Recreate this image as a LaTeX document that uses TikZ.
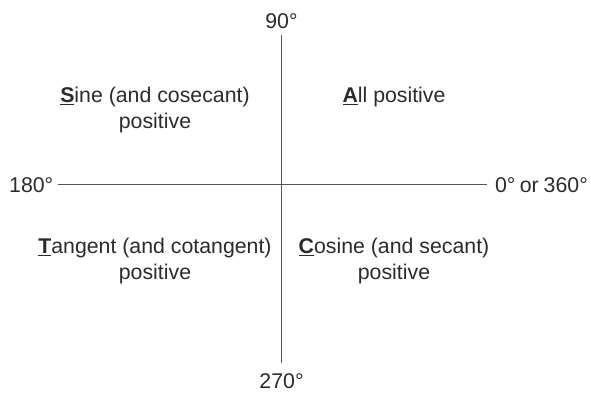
\documentclass[tikz,border=0pt]{standalone}
\usepackage{fontspec}
\setmainfont{Liberation Sans}
\usepackage{xcolor}
\usepackage{tikz}
\usetikzlibrary{positioning}

\definecolor{inkgray}{HTML}{2B2B2B}
\definecolor{axisgray}{HTML}{555555}

% bold, underlined first letter of a quadrant
\newcommand{\quadletter}[1]{\setbox0\hbox{\textbf{#1}}\rlap{\rule[-3pt]{\wd0}{1.1pt}}\box0}

\begin{document}
\begin{tikzpicture}[
    x=1pt, y=-1pt,
    lbl/.style={inner sep=0pt, anchor=base, text=inkgray,
                font=\fontsize{21.3}{26}\selectfont},
    quad/.style={lbl, align=center},
    axis/.style={draw=axisgray, line width=1.3pt}
  ]
  \useasboundingbox (0,0) rectangle (591,392);
  % angle labels
  \node[lbl] (deg90)  at (281.5,28)  {90°};
  \node[lbl] (deg270) at (281.5,388) {270°};
  \node[lbl, anchor=base west] (deg180) at (9,192)   {180°};
  \node[lbl, anchor=base east] (deg0)   at (588,192) {0°\hspace{-1.5pt} or\hspace{-1pt} 360°};
  % axes
  \draw[axis, shorten <=7pt, shorten >=10pt] (deg90.south) -- (deg270.north);
  \draw[axis, shorten <=5pt, shorten >=8pt] (deg180.east) -- (deg0.west);
  % quadrants (base = last line)
  \node[quad] (sine)    at (155,128) {\quadletter{S}ine (and cosecant)\\positive};
  \node[quad] (all)     at (394,102) {\quadletter{A}ll positive};
  \node[quad] (tangent) at (155,279) {\quadletter{T}angent (and cotangent)\\positive};
  \node[quad] (cosine)  at (394,279) {\quadletter{C}osine (and secant)\\positive};
\end{tikzpicture}
\end{document}
